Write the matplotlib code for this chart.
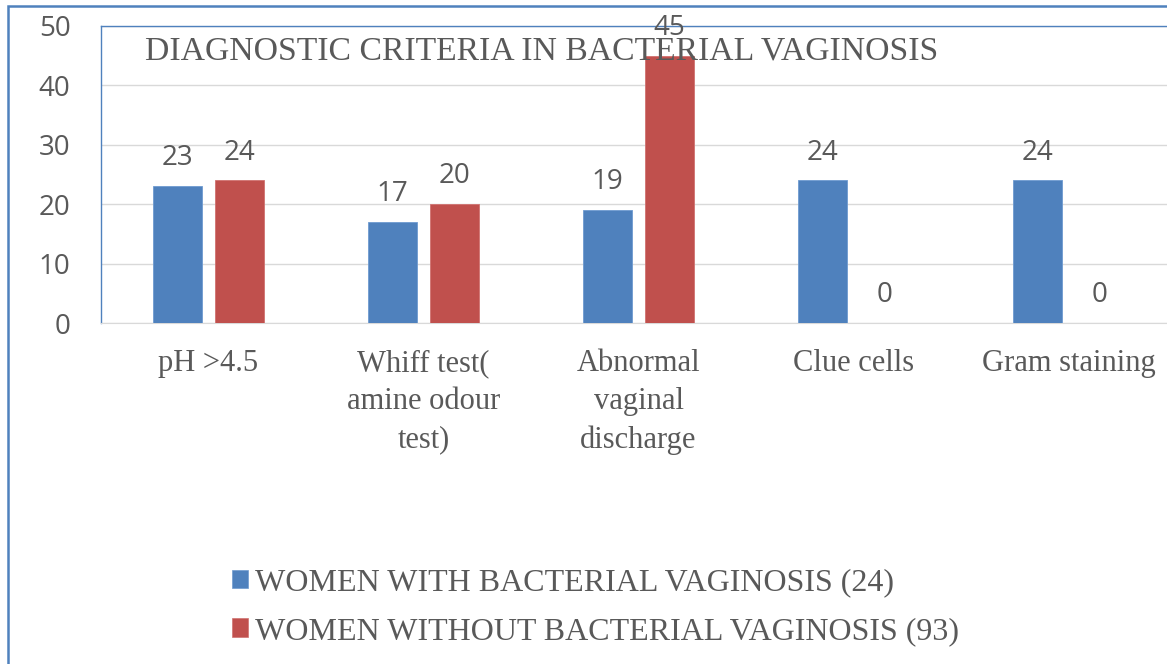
import matplotlib
matplotlib.use("Agg")
import matplotlib.pyplot as plt
from matplotlib.patches import Rectangle, Patch
import numpy as np

# data
categories = ["pH >4.5", "Whiff test(\namine odour\ntest)", "Abnormal\nvaginal\ndischarge",
              "Clue cells", "Gram staining"]
with_bv = [23, 17, 19, 24, 24]
without_bv = [24, 20, 45, 0, 0]
series_names = ["WOMEN WITH BACTERIAL VAGINOSIS (24)", "WOMEN WITHOUT BACTERIAL VAGINOSIS (93)"]
title = "DIAGNOSTIC CRITERIA IN BACTERIAL VAGINOSIS"

BLUE = "#4F81BD"
RED = "#C0504D"
TXT = "#595959"
GRID = "#D9D9D9"
SERIF = "Liberation Serif"
SANS = "Open Sans"

W, H = 1167, 664
fig = plt.figure(figsize=(W / 100, H / 100), dpi=100)

# axes placed in pixel terms (plot area runs a bit past the right edge)
left, right, top, bottom = 101, 1176, 26, 323
ax = fig.add_axes([left / W, 1 - bottom / H, (right - left) / W, (bottom - top) / H])

x = np.arange(len(categories))
bw = 0.228
off = 0.143
b1 = ax.bar(x - off, with_bv, bw, color=BLUE, edgecolor="#6f9bd0", linewidth=0.6, zorder=3)
b2 = ax.bar(x + off, without_bv, bw, color=RED, edgecolor="#d07270", linewidth=0.6, zorder=3)

for bars in (b1, b2):
    for r in bars:
        ax.annotate(f"{int(r.get_height())}", (r.get_x() + r.get_width() / 2, r.get_height()),
                    xytext=(0, 10), textcoords="offset points", ha="center", va="bottom",
                    fontsize=20, family=SANS, color=TXT, zorder=5)

ax.set_xlim(-0.5, len(categories) - 0.5)
ax.set_ylim(0, 50)
ax.set_yticks(range(0, 51, 10))
ax.yaxis.grid(True, color=GRID, linewidth=1, zorder=0)
ax.set_axisbelow(True)

ax.set_xticks(x)
ax.set_xticklabels(categories, fontsize=22, family=SERIF, color=TXT, linespacing=1.4)
ax.tick_params(axis="x", length=0, pad=19)
ax.tick_params(axis="y", length=0, pad=22, labelsize=20, labelcolor=TXT)
for t in ax.get_yticklabels():
    t.set_family(SANS)

ax.spines["left"].set_color(BLUE)
ax.spines["top"].set_color(BLUE)
ax.spines["bottom"].set_color(GRID)
ax.spines["right"].set_visible(False)
for s in ("left", "top"):
    ax.spines[s].set_linewidth(1)

ax.text(0.041, 0.915, title, transform=ax.transAxes, fontsize=24.3, family=SERIF,
        color=TXT, va="center", ha="left", zorder=4)

# legend
handles = [Patch(facecolor=BLUE, edgecolor="#6f9bd0", linewidth=0.5),
           Patch(facecolor=RED, edgecolor="#d07270", linewidth=0.5)]
fig.legend(handles, series_names, loc="center left", bbox_to_anchor=(232 / W, 1 - 607 / H),
           frameon=False, prop={"family": SERIF, "size": 23}, labelcolor=TXT,
           handlelength=0.5, handleheight=0.5, handletextpad=0.22, labelspacing=0.62,
           borderaxespad=0, borderpad=0)

# outer chart border (cropped at right and bottom)
fig.patches.append(Rectangle((7.5 / W, -0.1), 1.2, 1.1 - 6 / H, transform=fig.transFigure,
                             fill=False, edgecolor=BLUE, linewidth=1.8))

fig.savefig("out.png", dpi=100)
